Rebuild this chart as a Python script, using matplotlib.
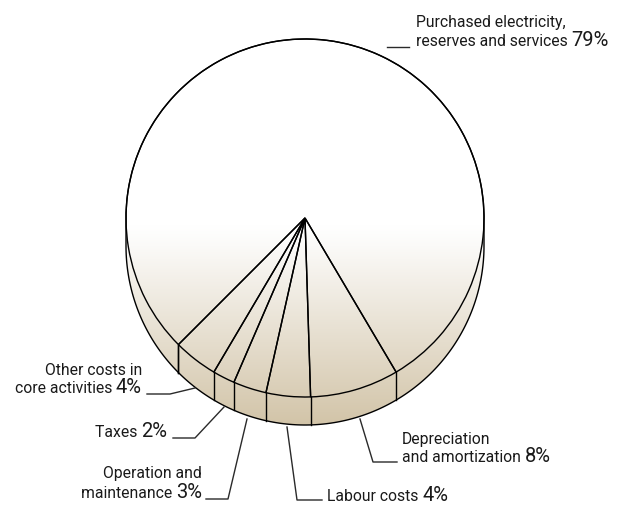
import numpy as np
import matplotlib
matplotlib.use("Agg")
import matplotlib.pyplot as plt
from matplotlib.path import Path
from matplotlib.patches import PathPatch
from matplotlib.colors import LinearSegmentedColormap

# ---- data ----
categories = ["Other costs in\ncore activities", "Taxes", "Operation and\nmaintenance",
              "Labour costs", "Depreciation\nand amortization",
              "Purchased electricity,\nreserves and services"]
values = [4, 2, 3, 4, 8, 79]
pct_labels = ["4%", "2%", "3%", "4%", "8%", "79%"]

W, H = 628, 505
fig = plt.figure(figsize=(W / 100, H / 100), dpi=100)
ax = fig.add_axes([0, 0, 1, 1])

cx, cy, r, depth = 305, H - 218, 179, 28
start = -135

# gradient fill of the whole solid
cmap = LinearSegmentedColormap.from_list("g", [(0, "#ffffff"), (0.1, "#fbfaf8"), (1, "#d2c4a8")])
grad = np.linspace(0, 1, 400).reshape(-1, 1)
y_top, y_bot = H - 225, H - 426
im = ax.imshow(grad, cmap=cmap, extent=(cx - r - 2, cx + r + 2, y_bot, y_top), origin="upper",
               aspect="auto", interpolation="bilinear", zorder=1)
a_up = np.linspace(0, np.pi, 200)
a_dn = np.linspace(np.pi, 2 * np.pi, 200)
sil = np.vstack([np.column_stack([cx + r * np.cos(a_up), cy + r * np.sin(a_up)]),
                 np.column_stack([cx + r * np.cos(a_dn), cy - depth + r * np.sin(a_dn)])])
sil_path = Path(np.vstack([sil, sil[:1]]), closed=True)
sil_patch = PathPatch(sil_path, facecolor="none", edgecolor="black", lw=1.0, zorder=3)
ax.add_patch(sil_patch)
im.set_clip_path(sil_patch)

# top face slices
wedges, _ = ax.pie(values, startangle=start, counterclock=True, center=(cx, cy), radius=r,
                   wedgeprops=dict(facecolor="none", edgecolor="black", linewidth=1.0),
                   frame=True)
for w in wedges:
    w.set_zorder(4)

# side edges at slice boundaries
bounds = start + 360 * np.cumsum([0] + values) / sum(values)
for b in bounds:
    th = np.deg2rad(b)
    if np.sin(th) < -0.05:
        x0, y0 = cx + r * np.cos(th), cy + r * np.sin(th)
        ax.plot([x0, x0], [y0, y0 - depth], color="black", lw=1.0, zorder=4)

ax.set_xlim(0, W)
ax.set_ylim(0, H)
ax.set_aspect("equal")
ax.axis("off")

txt_kw = dict(fontsize=11.3, color="#1a1a1a", family="Roboto")
pct_kw = dict(fontsize=14.5, color="#1a1a1a", family="Roboto", fontweight="normal")
fig.canvas.draw()
renderer = fig.canvas.get_renderer()


def label(lines, pct, x, ys, ha):
    for i, line in enumerate(lines):
        yb = H - ys[i]
        if i < len(lines) - 1:
            ax.text(x, yb, line, ha=ha, va="baseline", **txt_kw)
        else:
            if ha == "right":
                p = ax.text(x, yb, pct, ha="right", va="baseline", **pct_kw)
                bb = p.get_window_extent(renderer)
                ax.text(bb.x0, yb, line + " ", ha="right", va="baseline", **txt_kw)
            else:
                tt = ax.text(x, yb, line + " ", ha="left", va="baseline", **txt_kw)
                bb = tt.get_window_extent(renderer)
                ax.text(bb.x1, yb, pct, ha="left", va="baseline", **pct_kw)


def leader(pts):
    xs = [p[0] for p in pts]
    ys = [H - p[1] for p in pts]
    ax.plot(xs, ys, color="#2a2a2a", lw=1.0, zorder=5)


lines_of = [c.split("\n") for c in categories]
label(lines_of[5], pct_labels[5], 416, [27, 46], "left")
leader([(387, 47), (409, 47)])
label(lines_of[0], pct_labels[0], 142, [375, 393], "right")
leader([(147, 394), (170, 394), (195, 388)])
label(lines_of[1], pct_labels[1], 167, [437], "right")
leader([(173, 438), (195, 438), (224, 407)])
label(lines_of[2], pct_labels[2], 202, [478, 498], "right")
leader([(206, 499), (228, 499), (247, 419)])
label(lines_of[3], pct_labels[3], 327, [501], "left")
leader([(287, 427), (297, 500), (322, 500)])
label(lines_of[4], pct_labels[4], 402, [444, 462], "left")
leader([(360, 419), (373, 462), (397, 462)])

fig.savefig("out.png", dpi=100)
